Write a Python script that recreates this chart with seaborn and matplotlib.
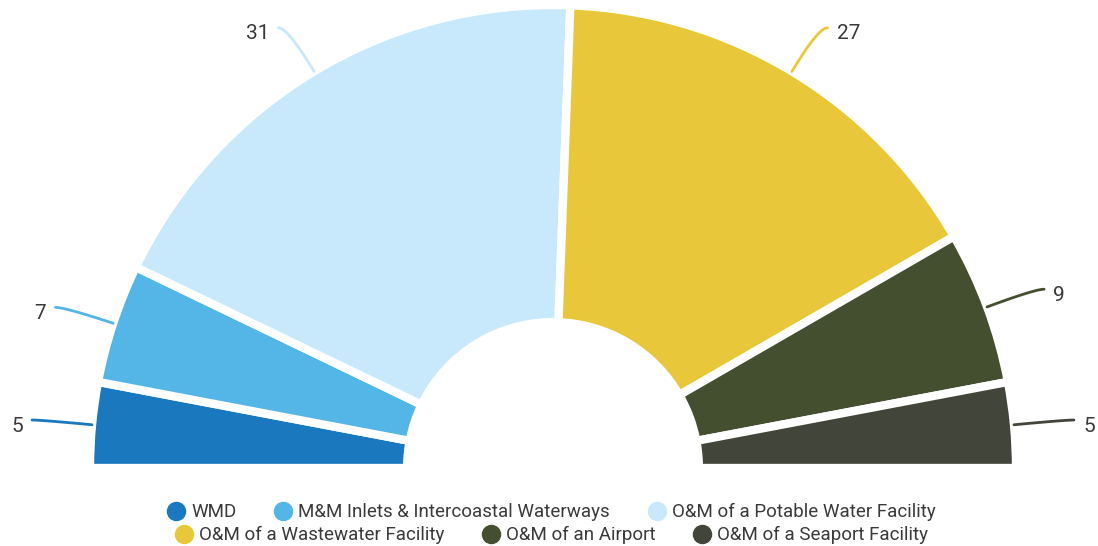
import matplotlib
matplotlib.use("Agg")
import matplotlib.pyplot as plt
import seaborn as sns
import numpy as np
from matplotlib.lines import Line2D

categories = ["WMD", "M&M Inlets & Intercoastal Waterways", "O&M of a Potable Water Facility",
              "O&M of a Wastewater Facility", "O&M of an Airport", "O&M of a Seaport Facility"]
values = [5, 7, 31, 27, 9, 5]
colors = ["#1a78be", "#53b6e7", "#c8e9fb", "#e8c83a", "#434f2e", "#424539"]

sns.set_theme(style="white")
plt.rcParams['font.family'] = ['Roboto', 'DejaVu Sans']
TXT = "#3a3a3a"

W, H = 1098, 546
fig = plt.figure(figsize=(W / 100, H / 100), dpi=100)
ax = fig.add_axes([0, 0, 1, 1])
U = 463.0
cx, cy = 553, 78
total = sum(values)
wedges, _ = ax.pie(values + [total], colors=colors + ["white"], startangle=180,
                   counterclock=False, radius=1,
                   wedgeprops=dict(width=0.685, edgecolor="white", linewidth=6))
wedges[-1].set_visible(False)
ax.set_xlim(-cx / U, (W - cx) / U)
ax.set_ylim(-cy / U, (H - cy) / U)
ax.axis("off")

t = np.linspace(0, 1, 30)[:, None]
for w, v, c in zip(wedges[:-1], values, colors):
    th = np.deg2rad((w.theta1 + w.theta2) / 2)
    d = np.array([np.cos(th), np.sin(th)])
    side = 1 if d[0] >= 0 else -1
    p0 = 1.0 * d
    p1 = 1.11 * d
    p2 = p1 + np.array([side * 0.02, 0])
    curve = (1 - t) ** 2 * p0 + 2 * (1 - t) * t * p1 + t ** 2 * p2
    ax.plot(curve[:, 0], curve[:, 1], color=c, lw=2, solid_capstyle="round")
    ax.text(p2[0] + side * 0.02, p2[1] - 6 / U, str(v), ha="left" if side > 0 else "right",
            va="center", fontsize=15, color=TXT)

def handles(idx):
    return [Line2D([], [], marker="o", linestyle="none", markersize=13,
                   markerfacecolor=colors[i], markeredgecolor=colors[i]) for i in idx]

for idx, yy in (([0, 1, 2], 0.062), ([3, 4, 5], 0.020)):
    fig.legend(handles(idx), [categories[i] for i in idx], loc="center",
               bbox_to_anchor=(0.502, yy), ncol=3, frameon=False, fontsize=13.5,
               handletextpad=0.3, columnspacing=2.0, labelcolor=TXT,
               borderpad=0, handlelength=1.0)

fig.savefig("out.png", dpi=100)
